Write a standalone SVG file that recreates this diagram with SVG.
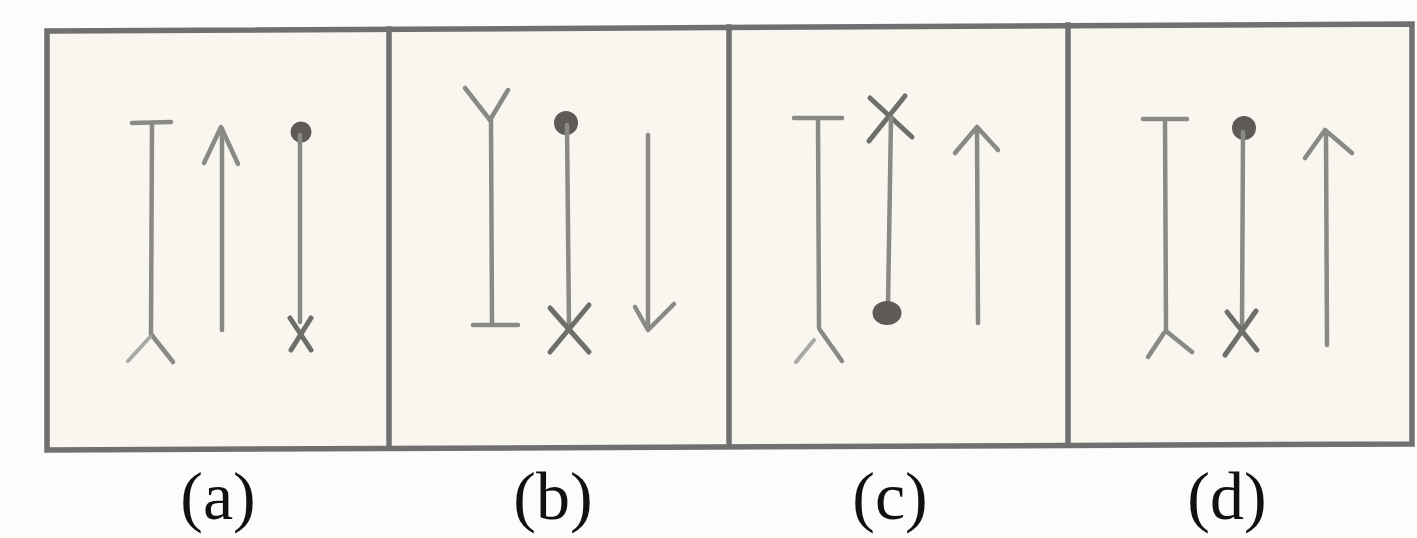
<svg xmlns="http://www.w3.org/2000/svg" width="1417" height="538" viewBox="0 0 1417 538">
<style>
.bg{fill:#fcfcfa}
.panel{fill:#f8f6ef}
.frame{stroke:#707070;stroke-width:5.5;fill:none;stroke-linecap:square}
.g{stroke:#8a8a84;stroke-width:4.5;fill:none;stroke-linecap:round;stroke-linejoin:round}
.faint{stroke:#a9a9a3;stroke-width:4;fill:none;stroke-linecap:round}
.dark{stroke:#6f6f69;stroke-width:5;fill:none;stroke-linecap:round}
.dot{fill:#5e5a56}
.lbl{font-family:"Liberation Serif","Times New Roman",serif;font-size:68px;fill:#111;text-anchor:middle}
</style>
<rect class="bg" x="0" y="0" width="1417" height="538"/>
<polygon class="panel" points="47,31 1412,24 1412,444 47,450"/>
<g id="frame">
<polygon class="frame" points="47,31 1412,24 1412,444 47,450"/>
<line class="frame" x1="389" y1="29" x2="389" y2="448"/>
<line class="frame" x1="729" y1="27" x2="729" y2="446"/>
<line class="frame" x1="1068" y1="25" x2="1068" y2="445"/>
</g>
<g id="panel-a">
<line class="g" x1="132" y1="123" x2="171" y2="122"/>
<line class="g" x1="152" y1="123" x2="151" y2="334"/>
<line class="g" x1="151" y1="334" x2="173" y2="362"/>
<line class="faint" x1="150" y1="337" x2="128" y2="361"/>
<line class="g" x1="222" y1="129" x2="222" y2="330"/>
<polyline class="g" points="204,163 221,127 238,164"/>
<circle class="dot" cx="301" cy="132" r="10.5" fill="#6a5c5c"/>
<line class="g" x1="300" y1="135" x2="300" y2="322"/>
<line class="dark" x1="290" y1="318" x2="311" y2="350"/>
<line class="dark" x1="311" y1="318" x2="291" y2="350"/>
</g>
<g id="panel-b">
<line class="g" x1="465" y1="88" x2="490" y2="120"/>
<line class="g" x1="508" y1="90" x2="490" y2="120"/>
<line class="g" x1="491" y1="120" x2="492" y2="324"/>
<line class="g" x1="473" y1="325" x2="518" y2="325"/>
<circle class="dot" cx="566" cy="123" r="12"/>
<line class="g" x1="567" y1="125" x2="569" y2="328"/>
<line class="dark" x1="550" y1="308" x2="589" y2="352"/>
<line class="dark" x1="589" y1="305" x2="550" y2="352"/>
<line class="g" x1="648" y1="135" x2="648" y2="328"/>
<polyline class="g" points="635,307 648,330 674,304"/>
</g>
<g id="panel-c">
<line class="g" x1="794" y1="118" x2="842" y2="118"/>
<line class="g" x1="818" y1="119" x2="819" y2="328"/>
<line class="g" x1="820" y1="330" x2="842" y2="361"/>
<line class="faint" x1="814" y1="340" x2="796" y2="362"/>
<line class="dark" x1="870" y1="98" x2="912" y2="137"/>
<line class="dark" x1="905" y1="96" x2="869" y2="141"/>
<line class="g" x1="891" y1="118" x2="888" y2="305"/>
<ellipse class="dot" cx="887" cy="313" rx="14.5" ry="12"/>
<line class="g" x1="977" y1="130" x2="978" y2="323"/>
<polyline class="g" points="955,153 977,127 998,150"/>
</g>
<g id="panel-d">
<line class="g" x1="1143" y1="119" x2="1187" y2="119"/>
<line class="g" x1="1165" y1="120" x2="1166" y2="330"/>
<line class="g" x1="1166" y1="331" x2="1192" y2="352"/>
<line class="g" x1="1164" y1="333" x2="1148" y2="357"/>
<circle class="dot" cx="1244" cy="128" r="12"/>
<line class="g" x1="1243" y1="132" x2="1242" y2="328"/>
<line class="dark" x1="1227" y1="312" x2="1257" y2="350"/>
<line class="dark" x1="1256" y1="311" x2="1225" y2="355"/>
<line class="g" x1="1326" y1="132" x2="1327" y2="345"/>
<polyline class="g" points="1305,158 1325,130 1352,153"/>
</g>
<g id="labels">
<text class="lbl" x="218" y="519">(a)</text>
<text class="lbl" x="553" y="519">(b)</text>
<text class="lbl" x="890" y="519">(c)</text>
<text class="lbl" x="1227" y="519">(d)</text>
</g>
</svg>
